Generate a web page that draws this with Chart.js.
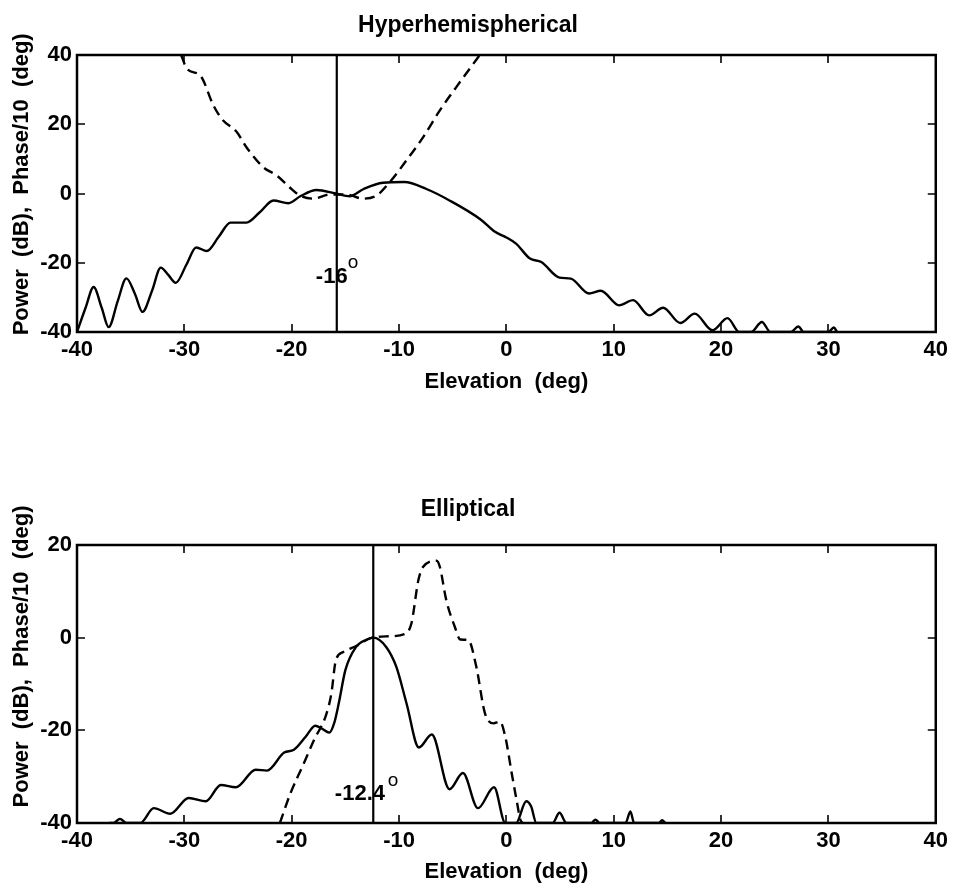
<!DOCTYPE html>
<html>
<head>
<meta charset="utf-8">
<script src="https://cdn.jsdelivr.net/npm/chart.js@4/dist/chart.umd.min.js"></script>
<style>
  body { margin: 0; background: #fff; }
  #pagina { position: relative; width: 953px; height: 888px; background: #fff; }
  canvas { position: absolute; left: 0; }
</style>
</head>
<body>
<div id="pagina">
  <canvas id="graficoHiper" width="953" height="444" style="top:0"></canvas>
  <canvas id="graficoElip" width="953" height="444" style="top:444px"></canvas>
</div>
<script>
// eixo x comum
const ticksElevacao = [-40, -30, -20, -10, 0, 10, 20, 30, 40];

// Hyperhemispherical - potencia (linha cheia)
const hiperPotElev = [-40, -39.2, -38.45, -37.7, -37.05, -36.2, -35.4, -34.6, -33.9, -33.0, -32.2, -31.5, -30.8, -29.8, -28.9, -27.9, -26.8, -25.7, -24.2, -23.0,
    -21.7, -20.3, -19.2, -17.7, -15.9, -14.6, -13.3, -11.5, -9.5, -7.45, -5.3, -2.4, -1.1, 0, 0.9, 2.2, 3.25, 4.95, 6.0, 7.7,
    8.8, 10.5, 11.8, 13.3, 14.6, 16.2, 17.55, 19.2, 20.6, 21.7, 22.8, 23.8, 24.6, 26.5, 27.2, 27.7, 30.0, 30.5, 30.8];
const hiperPot = [-40, -33, -27, -33, -38.6, -31, -24.5, -29, -34.2, -28, -21.4, -23.5, -25.8, -20.5, -15.6, -16.6, -12.5, -8.4, -8.4, -5.5,
    -2.0, -2.8, -0.8, 1.0, 0.0, -0.8, 1.3, 3.1, 3.3, 1.3, -2.0, -7.5, -11.0, -12.7, -14.5, -18.8, -19.8, -24.3, -24.6, -28.9,
    -28.1, -32.3, -30.8, -35.2, -33.0, -37.4, -34.7, -39.5, -36, -40, -40, -37.1, -40, -40, -38.4, -40, -40, -38.7, -40];

// Hyperhemispherical - fase/10 (tracejada)
const hiperFaseElev = [-30.3, -29.75, -28.5, -27.3, -26.5, -25.1, -24.2, -22.65, -21.4, -20.2, -19.24, -18.0, -16.45, -14.9, -13.34, -12.1, -10.86, -9.3, -7.75, -6.2, -4.65, -3.4, -2.48];
const hiperFase = [40, 36, 34, 25.5, 21.5, 17.7, 13.3, 7.6, 5.2, 1.8, -0.6, -1.5, -0.3, -0.3, -1.5, -0.6, 3.3, 9.6, 16.3, 24, 30.8, 36.1, 40];

// Elliptical - potencia (linha cheia)
const elipPotElev = [-37, -36.6, -36.0, -35.4, -34.1, -32.85, -31.3, -29.6, -28.0, -26.6, -25.2, -23.35, -22.3, -20.7, -19.8, -18.7, -17.8, -17.2, -16.5, -16.05,
    -15.6, -15.0, -14.0, -13.0, -12.4, -11.2, -10.25, -9.3, -8.15, -6.95, -5.3, -4.05, -2.65, -1.15, -0.1, 0.9, 1.85, 2.3, 2.8, 4.3,
    4.95, 5.6, 7.9, 8.3, 8.7, 11.1, 11.55, 11.9, 14.2, 14.5, 14.8];
const elipPot = [-40, -40, -39.1, -40, -40, -36.8, -38, -34.6, -35.3, -31.8, -32.3, -28.5, -28.7, -24.8, -24.2, -21.4, -19, -19.6, -20.5, -18.5,
    -14, -7, -2, -0.4, 0, -2, -6.3, -14.2, -23.7, -20.9, -32.7, -29.2, -36.8, -32.3, -40, -40, -35.3, -36.4, -40, -40,
    -37.8, -40, -40, -39.3, -40, -40, -37.5, -40, -40, -39.4, -40];

// Elliptical - fase/10 (tracejada)
const elipFaseElev = [-21.1, -20.1, -19.0, -17.9, -16.8, -16.3, -15.9, -15.2, -14.0, -12.5, -10.9, -9.5, -8.85, -8.2, -7.75, -6.5, -6.2, -5.6, -4.8, -4.3,
    -3.55, -2.8, -2.0, -1.2, -0.6, -0.1, 0.5, 1.0, 1.3, 1.5];
const elipFase = [-40, -33.5, -27.8, -22, -16.7, -12, -5, -3.1, -1.8, 0, 0.3, 0.75, 3.05, 12.4, 15.3, 16.6, 15.3, 8.1, 2.3, -0.4,
    -0.5, -6.3, -16.3, -18.5, -18.1, -21.4, -29.3, -35.7, -39.3, -40];

// elevacao do maximo (linha vertical)
const hiperCorte = -15.8;
const elipCorte = -12.4;

Chart.defaults.font.family = "'Liberation Sans', Arial, sans-serif";
Chart.defaults.font.weight = 'bold';
Chart.defaults.color = '#000';

const fonteGrande = { size: 22, weight: 'bold' };

function pontos(xs, ys) {
    return xs.map((x, i) => ({ x: x, y: ys[i] }));
}

// moldura estilo matlab com ticks para dentro + texto do angulo
const molduraPlugin = {
    id: 'moldura',
    beforeDatasetsDraw(chart, args, opts) {
        const { ctx, scales: { x, y } } = chart;
        ctx.save();
        ctx.fillStyle = '#000';
        ctx.textAlign = 'left';
        ctx.textBaseline = 'alphabetic';
        ctx.font = "bold 22px 'Liberation Sans', Arial, sans-serif";
        ctx.fillText(opts.rotulo, x.getPixelForValue(opts.rotuloX), y.getPixelForValue(opts.rotuloY));
        ctx.font = "19px 'Liberation Sans', Arial, sans-serif";
        ctx.textBaseline = 'middle';
        ctx.fillText('o', x.getPixelForValue(opts.grauX), y.getPixelForValue(opts.grauY));
        ctx.restore();
    },
    afterDatasetsDraw(chart) {
        const { ctx, chartArea: a, scales: { x, y } } = chart;
        ctx.save();
        ctx.strokeStyle = '#000';
        ctx.lineWidth = 1.6;
        ctx.beginPath();
        x.ticks.forEach(t => {
            const px = Math.round(x.getPixelForValue(t.value));
            ctx.moveTo(px, a.bottom); ctx.lineTo(px, a.bottom - 8);
            ctx.moveTo(px, a.top); ctx.lineTo(px, a.top + 8);
        });
        y.ticks.forEach(t => {
            const py = Math.round(y.getPixelForValue(t.value));
            ctx.moveTo(a.left, py); ctx.lineTo(a.left + 8, py);
            ctx.moveTo(a.right, py); ctx.lineTo(a.right - 8, py);
        });
        ctx.stroke();
        ctx.lineWidth = 2.5;
        ctx.strokeRect(a.left, a.top, a.right - a.left, a.bottom - a.top);
        ctx.restore();
    }
};

function construirGrafico(canvas, cfg) {

    new Chart(canvas, {
        type: 'line',
        data: {
            datasets: [{
                label: 'Power',
                data: pontos(cfg.potElev, cfg.pot),
                borderColor: '#000',
                borderWidth: 2.4,
                cubicInterpolationMode: 'monotone'
            }, {
                label: 'Phase/10',
                data: pontos(cfg.faseElev, cfg.fase),
                borderColor: '#000',
                borderWidth: 2.4,
                borderDash: [10, 6],
                cubicInterpolationMode: 'monotone'
            }, {
                label: 'max',
                data: [{ x: cfg.corte, y: -40 }, { x: cfg.corte, y: cfg.yMax }],
                borderColor: '#000',
                borderWidth: 2.2
            }]
        },
        options: {
            responsive: false,
            animation: false,
            devicePixelRatio: 1,
            layout: { padding: { left: 0, right: 17, top: 0, bottom: 0 } },
            elements: { point: { radius: 0 } },
            plugins: {
                legend: { display: false },
                tooltip: { enabled: false },
                title: {
                    display: true,
                    text: cfg.titulo,
                    font: { size: 23, weight: 'bold' },
                    color: '#000',
                    padding: { top: cfg.tituloTopo, bottom: cfg.tituloBase }
                },
                moldura: cfg.anotacao
            },
            scales: {
                x: {
                    type: 'linear',
                    min: -40,
                    max: 40,
                    grid: { display: false, drawTicks: false },
                    border: { display: false },
                    afterBuildTicks: s => { s.ticks = ticksElevacao.map(v => ({ value: v })); },
                    afterFit: s => { s.height = cfg.alturaX; },
                    ticks: { padding: 5, font: fonteGrande, color: '#000', maxRotation: 0, autoSkip: false },
                    title: {
                        display: true,
                        text: 'Elevation  (deg)',
                        font: fonteGrande,
                        color: '#000',
                        padding: { top: 0, bottom: cfg.rotuloXBase }
                    }
                },
                y: {
                    min: -40,
                    max: cfg.yMax,
                    grid: { display: false, drawTicks: false },
                    border: { display: false },
                    afterBuildTicks: s => { s.ticks = cfg.yTicks.map(v => ({ value: v })); },
                    afterFit: s => { s.width = 77; },
                    ticks: { padding: 5, font: fonteGrande, color: '#000' },
                    title: {
                        display: true,
                        text: cfg.rotuloY,
                        font: fonteGrande,
                        color: '#000',
                        padding: { top: 9, bottom: 0 }
                    }
                }
            }
        },
        plugins: [molduraPlugin]
    });

}

construirGrafico(document.getElementById('graficoHiper'), {
    titulo: 'Hyperhemispherical',
    tituloTopo: 12,
    tituloBase: 15.4,
    potElev: hiperPotElev, pot: hiperPot,
    faseElev: hiperFaseElev, fase: hiperFase,
    corte: hiperCorte,
    yMax: 40,
    yTicks: [-40, -20, 0, 20, 40],
    alturaX: 112,
    rotuloXBase: 49,
    rotuloY: '   Power  (dB),  Phase/10  (deg)',
    anotacao: { rotulo: '-16', rotuloX: -17.75, rotuloY: -25.85, grauX: -14.77, grauY: -20.1 }
});

construirGrafico(document.getElementById('graficoElip'), {
    titulo: 'Elliptical',
    tituloTopo: 52,
    tituloBase: 21.4,
    potElev: elipPotElev, pot: elipPot,
    faseElev: elipFaseElev, fase: elipFase,
    corte: elipCorte,
    yMax: 20,
    yTicks: [-40, -20, 0, 20],
    alturaX: 65,
    rotuloXBase: 3,
    rotuloY: '         Power  (dB),  Phase/10  (deg)',
    anotacao: { rotulo: '-12.4', rotuloX: -15.98, rotuloY: -35.0, grauX: -11.04, grauY: -30.9 }
});
</script>
</body>
</html>
